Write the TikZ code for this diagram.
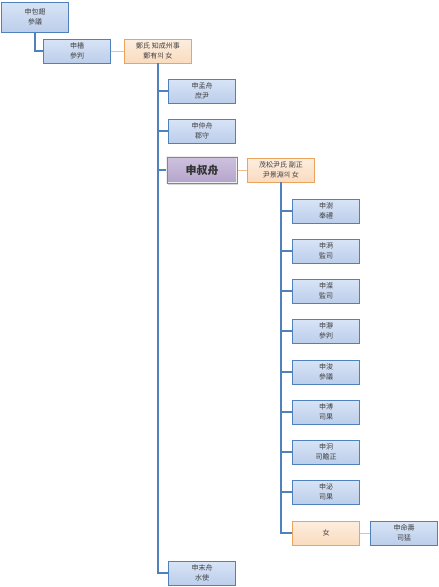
\documentclass[tikz,border=0pt]{standalone}
\usepackage{fontspec}
\setmainfont{Noto Sans CJK KR}
\usetikzlibrary{shadows}
\definecolor{bline}{HTML}{4F81BD}
\definecolor{btop}{HTML}{D8E4F6}
\definecolor{bbot}{HTML}{BCCEEA}
\definecolor{otop}{HTML}{FDEEE0}
\definecolor{obot}{HTML}{FADBBE}
\definecolor{oline}{HTML}{EBA45E}
\definecolor{ptop}{HTML}{CDC1DE}
\definecolor{pbot}{HTML}{B4A4CC}
\definecolor{pline}{HTML}{8E7DAA}
\definecolor{pframe}{HTML}{EDEDED}
\definecolor{txt}{HTML}{404040}
\begin{document}
\begin{tikzpicture}[x=1pt,y=-1pt,
  person/.style={draw=bline, line width=0.9pt, top color=btop, bottom color=bbot,
    minimum width=67pt, minimum height=24pt, inner sep=0pt, align=center,
    font=\fontsize{7}{10.5}\selectfont, text=txt},
  spouse/.style={person, draw=oline, top color=otop, bottom color=obot},
  mainp/.style={person, draw=pframe, line width=2.6pt, top color=ptop, bottom color=pbot,
    drop shadow={opacity=0.3, shadow xshift=1pt, shadow yshift=-1.5pt},
    minimum width=70pt, minimum height=26pt, font=\fontsize{11}{13}\selectfont\bfseries, text=black!80},
  conn/.style={draw=bline, line width=1.3pt},
  sconn/.style={draw=oline!70, line width=1pt}]
\fill[white] (0,0) rectangle (439,587);
\useasboundingbox (0,0) rectangle (439,587);
% generation 1-2
\node[person, minimum height=30pt] (p1) at (35,17) {申包翅\\參議};
\node[person] (p2) at (77,51) {申檣\\參判};
\node[spouse] (s2) at (158,51) {鄭氏 知成州事\\鄭有의 女};
% children of 申檣
\node[person] (c1) at (202,91) {申孟舟\\庶尹};
\node[person] (c2) at (202,131) {申仲舟\\郡守};
\node[mainp] (c3) at (202,170) {申叔舟};
\draw[pline, line width=0.6pt] ([shift={(1.3pt,-1.3pt)}]c3.north west) rectangle ([shift={(-1.3pt,1.3pt)}]c3.south east);
\node[spouse] (s3) at (281,170) {茂松尹氏 副正\\尹景淵의 女};
\node[person] (c4) at (202,573) {申末舟\\水使};
% children of 申叔舟
\node[person] (g1) at (326,211) {申澍\\奉禮};
\node[person] (g2) at (326,251) {申㴐\\監司};
\node[person] (g3) at (326,291) {申澯\\監司};
\node[person] (g4) at (326,331) {申瀞\\參判};
\node[person] (g5) at (326,372) {申浚\\參議};
\node[person] (g6) at (326,412) {申溥\\司果};
\node[person] (g7) at (326,452) {申泂\\司贍正};
\node[person] (g8) at (326,492) {申泌\\司果};
\node[spouse] (g9) at (326,533) {女};
\node[person] (h9) at (404,533) {申命壽\\司猛};
% connectors
\draw[conn] (p1.south) |- (p2.west);
\draw[sconn] (p2.east) -- (s2.west);
\foreach \n in {c1,c2,c3,c4} \draw[conn] (s2.south) |- (\n.west);
\draw[sconn] (c3.east) -- (s3.west);
\foreach \n in {g1,g2,g3,g4,g5,g6,g7,g8,g9} \draw[conn] (s3.south) |- (\n.west);
\draw[sconn] (g9.east) -- (h9.west);
\end{tikzpicture}
\end{document}
